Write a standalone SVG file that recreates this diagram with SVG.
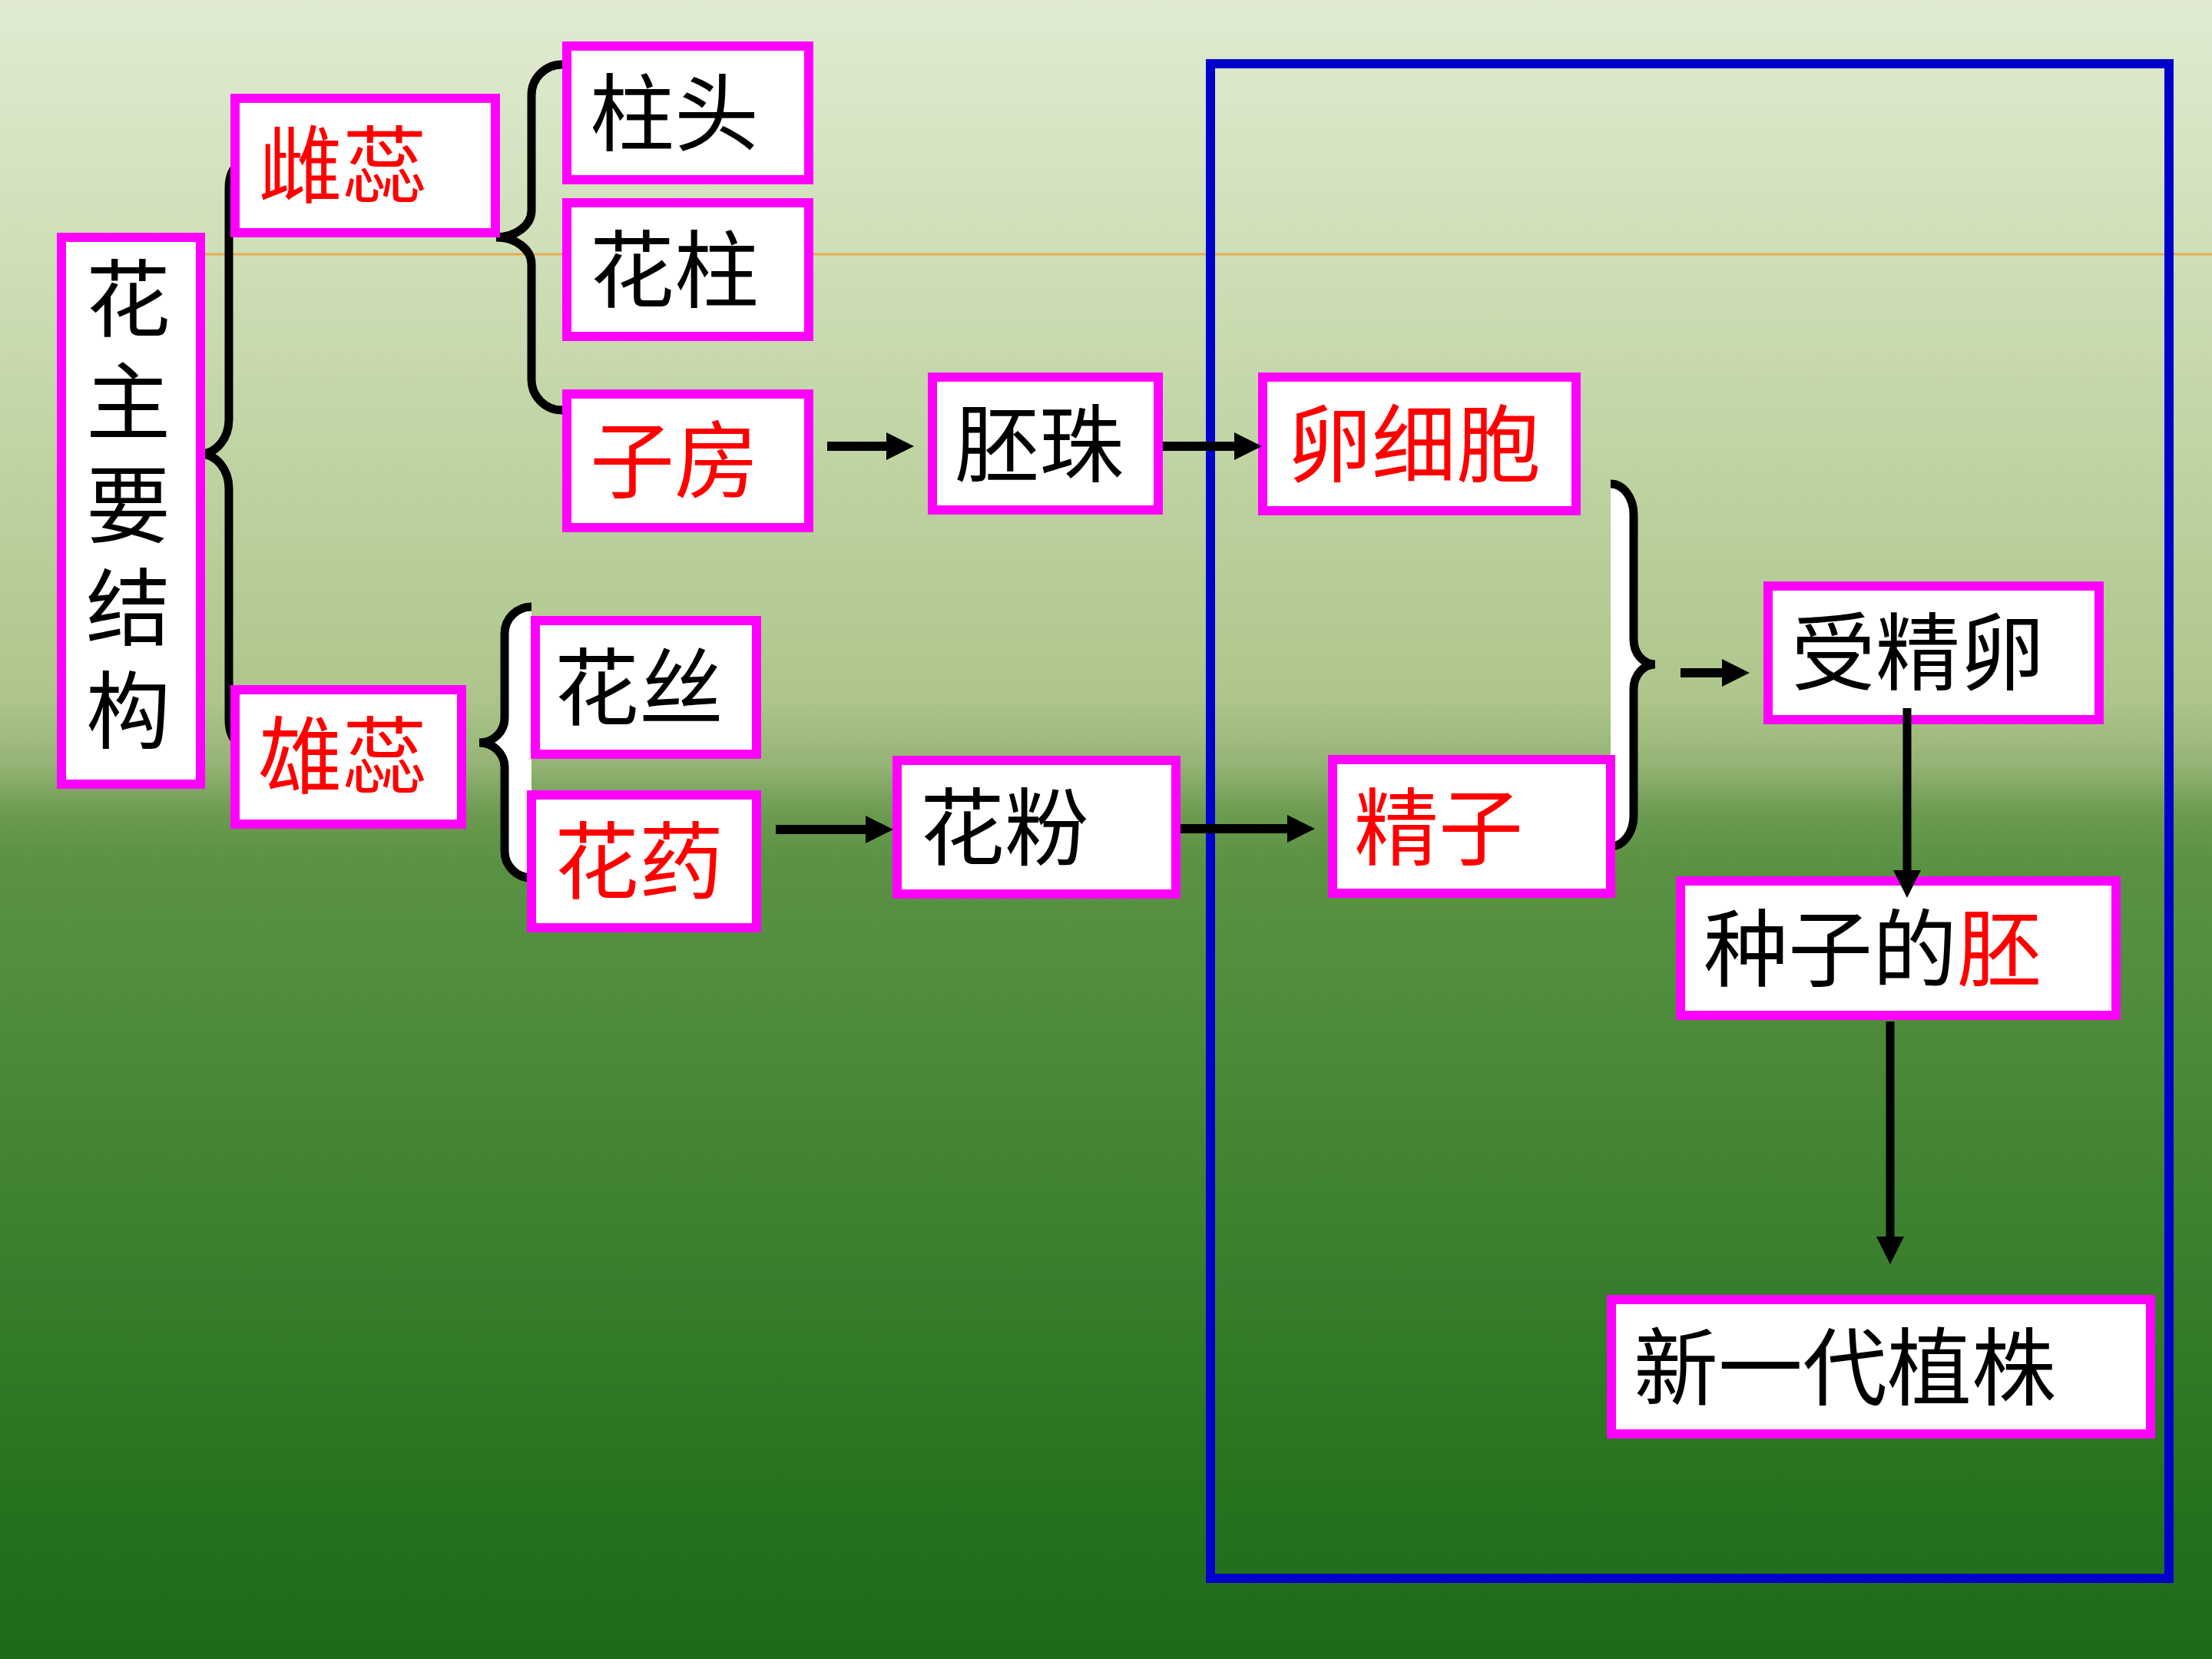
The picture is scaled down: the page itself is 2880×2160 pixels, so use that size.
<svg xmlns="http://www.w3.org/2000/svg" width="2880" height="2160" viewBox="0 0 2880 2160">
<defs>
<linearGradient id="bg" x1="0" y1="0" x2="0" y2="1">
<stop offset="0" stop-color="#e0ebd2"/>
<stop offset="0.15" stop-color="#cfdfb8"/>
<stop offset="0.42" stop-color="#aec68b"/>
<stop offset="0.46" stop-color="#96b476"/>
<stop offset="0.49" stop-color="#6c9b50"/>
<stop offset="0.52" stop-color="#5a9243"/>
<stop offset="0.60" stop-color="#4f8d3c"/>
<stop offset="0.75" stop-color="#3b7f2f"/>
<stop offset="0.90" stop-color="#27721f"/>
<stop offset="1" stop-color="#1d6a1b"/>
</linearGradient>
<marker id="ah" markerUnits="userSpaceOnUse" markerWidth="36" markerHeight="36" refX="2" refY="18" orient="auto">
<path d="M0,0 L36,18 L0,36 z" fill="#000"/>
</marker>
<style>
.box{fill:#fff;stroke:#ff00ff;stroke-width:12}
.t{font-family:"Noto Sans CJK SC","Noto Sans CJK TC",sans-serif;font-size:110px;dominant-baseline:central}
.v{font-family:"Noto Sans CJK SC","Noto Sans CJK TC",sans-serif;font-size:110px;writing-mode:vertical-rl;letter-spacing:24px}
.k{fill:#000}
.r{fill:#ff0000}
.br{fill:none;stroke:#000;stroke-width:11}
.bf{fill:#fff;stroke:none}
.ar{stroke:#000;stroke-width:12;fill:none;marker-end:url(#ah)}
.av{stroke:#000;stroke-width:11;fill:none;marker-end:url(#ah)}
</style>
</defs>
<rect x="0" y="0" width="2880" height="2160" fill="url(#bg)"/>
<line x1="267" y1="331" x2="2880" y2="331" stroke="#e6ac55" stroke-width="3"/>
<rect id="frame" x="1576" y="83" width="1248" height="1972" fill="none" stroke="#0000cc" stroke-width="12"/>

<g id="braces">
<path class="br" d="M310,217 A12,28 0 0 0 298,245 L298,546 A37,45 0 0 1 261,591 A37,45 0 0 1 298,636 L298,937 A12,28 0 0 0 310,965"/>
<path class="br" d="M732,84 A40,40 0 0 0 692,124 L692,274 A46,35 0 0 1 646,309 A46,35 0 0 1 692,344 L692,494 A40,40 0 0 0 732,534"/>
<path class="bf" d="M692,790 A35,35 0 0 0 657,825 L657,935 A33,32 0 0 1 624,967 A33,32 0 0 1 657,999 L657,1108 A35,35 0 0 0 692,1143 Z"/>
<path class="br" d="M692,790 A35,35 0 0 0 657,825 L657,935 A33,32 0 0 1 624,967 A33,32 0 0 1 657,999 L657,1108 A35,35 0 0 0 692,1143"/>
<path class="bf" d="M2097,630 A30,40 0 0 1 2127,670 L2127,833 A28,32 0 0 0 2155,865 A28,32 0 0 0 2127,897 L2127,1062 A30,40 0 0 1 2097,1102 Z"/>
<path class="br" d="M2097,630 A30,40 0 0 1 2127,670 L2127,833 A28,32 0 0 0 2155,865 A28,32 0 0 0 2127,897 L2127,1062 A30,40 0 0 1 2097,1102"/>
</g>

<g id="n-hua">
<rect class="box" x="80" y="309" width="181" height="712"/>
<text class="v k" x="167" y="333">花主要结构</text>
</g>
<g id="n-cirui">
<rect class="box" x="306" y="128" width="339" height="175"/>
<text class="t r" x="336" y="208">雌蕊</text>
</g>
<g id="n-zhutou">
<rect class="box" x="738" y="60" width="315" height="174"/>
<text class="t k" x="768" y="140">柱头</text>
</g>
<g id="n-huazhu">
<rect class="box" x="738" y="264" width="315" height="174"/>
<text class="t k" x="768" y="344">花柱</text>
</g>
<g id="n-zifang">
<rect class="box" x="738" y="513" width="315" height="174"/>
<text class="t r" x="768" y="592">子房</text>
</g>
<g id="n-xiongrui">
<rect class="box" x="306" y="898" width="295" height="175"/>
<text class="t r" x="336" y="977">雄蕊</text>
</g>
<g id="n-huasi">
<rect class="box" x="697" y="808" width="288" height="174"/>
<text class="t k" x="722" y="888">花丝</text>
</g>
<g id="n-huayao">
<rect class="box" x="692" y="1035" width="293" height="173"/>
<text class="t r" x="722" y="1114">花药</text>
</g>
<g id="n-peizhu">
<rect class="box" x="1214" y="491" width="294" height="173"/>
<text class="t k" x="1243" y="571">胚珠</text>
</g>
<g id="n-huafen">
<rect class="box" x="1168" y="990" width="363" height="174"/>
<text class="t k" x="1198" y="1070">花粉</text>
</g>
<g id="n-luanxibao">
<rect class="box" x="1644" y="491" width="408" height="174"/>
<text class="t r" x="1676" y="571">卵细胞</text>
</g>
<g id="n-jingzi">
<rect class="box" x="1735" y="989" width="362" height="174"/>
<text class="t r" x="1763" y="1070">精子</text>
</g>
<g id="n-shoujingluan">
<rect class="box" x="2302" y="763" width="431" height="174"/>
<text class="t k" x="2332" y="842">受精卵</text>
</g>
<g id="n-pei">
<rect class="box" x="2188" y="1147" width="567" height="175"/>
<text class="t k" x="2218" y="1228">种子的<tspan class="r">胚</tspan></text>
</g>
<g id="n-xinyidai">
<rect class="box" x="2098" y="1692" width="702" height="175"/>
<text class="t k" x="2127" y="1773">新一代植株</text>
</g>

<g id="connectors">
<line class="ar" x1="1077" y1="581" x2="1156" y2="581"/>
<line class="ar" x1="1514" y1="581" x2="1609" y2="581"/>
<line class="ar" x1="1010" y1="1080" x2="1129" y2="1080"/>
<line class="ar" x1="1537" y1="1079" x2="1678" y2="1079"/>
<line class="ar" x1="2188" y1="876" x2="2244" y2="876"/>
<line class="av" x1="2483" y1="922" x2="2483" y2="1135"/>
<line class="av" x1="2461" y1="1330" x2="2461" y2="1612"/>
</g>
</svg>
